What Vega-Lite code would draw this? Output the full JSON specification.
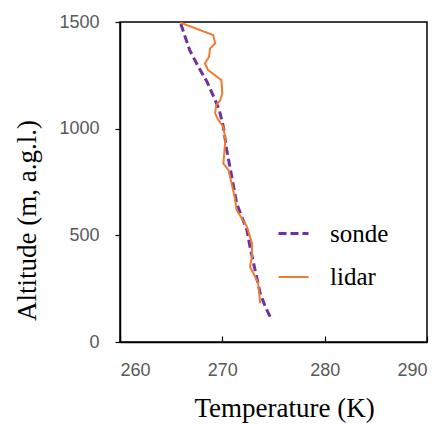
{
  "$schema": "https://vega.github.io/schema/vega-lite/v6.json",
  "width": 307,
  "height": 320,
  "autosize": "none",
  "padding": {"left": 120, "top": 22, "right": 18, "bottom": 82},
  "background": "white",
  "config": {
    "view": {"stroke": "black", "strokeWidth": 1.5},
    "axis": {"grid": false, "domainColor": "black", "domainWidth": 1.5, "tickColor": "black", "tickWidth": 1.2, "labelFont": "Liberation Sans", "labelFontSize": 18, "labelColor": "#595959", "titleFont": "Liberation Serif", "titleFontSize": 27, "titleFontWeight": "normal", "titleColor": "black"},
    "legend": {"labelFont": "Liberation Serif", "labelFontSize": 25, "labelColor": "black"}
  },
  "data": {
    "values": [
      {"series": "sonde", "T": 274.66, "alt": 119},
      {"series": "sonde", "T": 274.2, "alt": 165},
      {"series": "sonde", "T": 273.7, "alt": 228},
      {"series": "sonde", "T": 273.2, "alt": 337},
      {"series": "sonde", "T": 272.7, "alt": 447},
      {"series": "sonde", "T": 272.4, "alt": 525},
      {"series": "sonde", "T": 271.4, "alt": 650},
      {"series": "sonde", "T": 270.8, "alt": 806},
      {"series": "sonde", "T": 270.43, "alt": 900},
      {"series": "sonde", "T": 270.1, "alt": 1009},
      {"series": "sonde", "T": 269.7, "alt": 1088},
      {"series": "sonde", "T": 269.3, "alt": 1134},
      {"series": "sonde", "T": 268.5, "alt": 1220},
      {"series": "sonde", "T": 267.65, "alt": 1291},
      {"series": "sonde", "T": 266.8, "alt": 1369},
      {"series": "sonde", "T": 265.9, "alt": 1497},
      {"series": "lidar", "T": 273.7, "alt": 181},
      {"series": "lidar", "T": 273.5, "alt": 275},
      {"series": "lidar", "T": 273.2, "alt": 306},
      {"series": "lidar", "T": 272.7, "alt": 353},
      {"series": "lidar", "T": 272.9, "alt": 400},
      {"series": "lidar", "T": 272.9, "alt": 462},
      {"series": "lidar", "T": 272.4, "alt": 541},
      {"series": "lidar", "T": 271.4, "alt": 619},
      {"series": "lidar", "T": 271.2, "alt": 681},
      {"series": "lidar", "T": 270.6, "alt": 806},
      {"series": "lidar", "T": 270.1, "alt": 837},
      {"series": "lidar", "T": 270.3, "alt": 947},
      {"series": "lidar", "T": 270.1, "alt": 1009},
      {"series": "lidar", "T": 269.6, "alt": 1041},
      {"series": "lidar", "T": 269.3, "alt": 1072},
      {"series": "lidar", "T": 269.4, "alt": 1111},
      {"series": "lidar", "T": 269.8, "alt": 1134},
      {"series": "lidar", "T": 270.0, "alt": 1166},
      {"series": "lidar", "T": 269.9, "alt": 1228},
      {"series": "lidar", "T": 268.6, "alt": 1275},
      {"series": "lidar", "T": 268.3, "alt": 1306},
      {"series": "lidar", "T": 268.7, "alt": 1337},
      {"series": "lidar", "T": 268.8, "alt": 1376},
      {"series": "lidar", "T": 269.3, "alt": 1400},
      {"series": "lidar", "T": 269.1, "alt": 1439},
      {"series": "lidar", "T": 265.9, "alt": 1497}
    ]
  },
  "mark": {"type": "line", "clip": true},
  "encoding": {
    "x": {"field": "T", "type": "quantitative", "scale": {"domain": [260, 290], "nice": false, "zero": false}, "axis": {"values": [260, 270, 280, 290], "format": "d", "title": "Temperature (K)", "tickSize": -6, "labelPadding": 25, "titleX": 164, "titleY": 74, "titleBaseline": "alphabetic", "titleAnchor": null, "titleAlign": "center"}},
    "y": {"field": "alt", "type": "quantitative", "scale": {"domain": [0, 1500], "nice": false}, "axis": {"values": [0, 500, 1000, 1500], "format": "d", "title": "Altitude (m, a.g.l.)", "tickSize": 5, "labelPadding": 16, "titleX": -85, "titleY": 198, "titleAngle": -90, "titleBaseline": "alphabetic", "titleAlign": "center", "titleAnchor": null}},
    "order": {"field": "alt", "type": "quantitative"},
    "color": {"field": "series", "type": "nominal", "scale": {"domain": ["sonde", "lidar"], "range": ["#7030A0", "#ED7D31"]}, "legend": {"title": null, "orient": "none", "legendX": 157, "legendY": 195, "symbolType": "stroke", "symbolSize": 900, "symbolStrokeWidth": 2.5, "labelFont": "Liberation Serif", "labelFontSize": 25, "labelColor": "black", "labelOffset": 20, "rowPadding": 14, "padding": 0}},
    "strokeDash": {"field": "series", "type": "nominal", "scale": {"domain": ["sonde", "lidar"], "range": [[8, 4], [1, 0]]}, "legend": null},
    "strokeWidth": {"field": "series", "type": "nominal", "scale": {"domain": ["sonde", "lidar"], "range": [3, 2]}, "legend": null}
  }
}
